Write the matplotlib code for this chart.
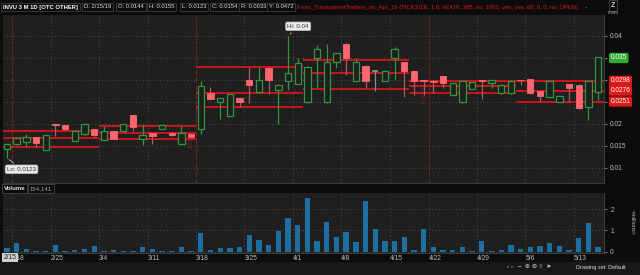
import matplotlib
matplotlib.use("Agg")
import matplotlib.pyplot as plt

plt.rcParams["font.family"] = ["Liberation Sans", "DejaVu Sans"]

# ---------------- data ----------------
dates = ["2/15", "2/19", "2/20", "2/21", "2/22", "2/25", "2/26", "2/27", "2/28", "3/1",
         "3/4", "3/5", "3/6", "3/7", "3/8", "3/11", "3/12", "3/13", "3/14", "3/15",
         "3/18", "3/19", "3/20", "3/21", "3/22", "3/25", "3/26", "3/27", "3/28", "3/29",
         "4/1", "4/2", "4/3", "4/4", "4/5", "4/8", "4/9", "4/10", "4/11", "4/12",
         "4/15", "4/16", "4/17", "4/18", "4/22", "4/23", "4/24", "4/25", "4/26", "4/29",
         "4/30", "5/1", "5/2", "5/3", "5/6", "5/7", "5/8", "5/9", "5/10", "5/13",
         "5/14", "5/15"]
opens = [0.0144, 0.0155, 0.0159, 0.0170, 0.0141, 0.0201, 0.0197, 0.0162, 0.0177, 0.0188,
         0.0164, 0.0183, 0.0184, 0.0220, 0.0165, 0.0179, 0.0189, 0.0180, 0.0154, 0.0178,
         0.0188, 0.0270, 0.0249, 0.0219, 0.0259, 0.0300, 0.0272, 0.0327, 0.0277, 0.0298,
         0.0292, 0.0249, 0.0351, 0.0249, 0.0340, 0.0382, 0.0298, 0.0332, 0.0321, 0.0298,
         0.0351, 0.0340, 0.0321, 0.0299, 0.0298, 0.0309, 0.0266, 0.0249, 0.0280, 0.0299,
         0.0293, 0.0270, 0.0270, 0.0300, 0.0302, 0.0274, 0.0261, 0.0251, 0.0291, 0.0289,
         0.0239, 0.0273]
highs = [0.0155, 0.0170, 0.0178, 0.0171, 0.0176, 0.0202, 0.0198, 0.0186, 0.0200, 0.0189,
         0.0195, 0.0184, 0.0200, 0.0221, 0.0198, 0.0180, 0.0199, 0.0181, 0.0195, 0.0179,
         0.0298, 0.0283, 0.0260, 0.0269, 0.0260, 0.0330, 0.0329, 0.0330, 0.0290, 0.0400,
         0.0349, 0.0331, 0.0380, 0.0382, 0.0362, 0.0383, 0.0349, 0.0333, 0.0322, 0.0322,
         0.0376, 0.0341, 0.0322, 0.0300, 0.0299, 0.0310, 0.0293, 0.0299, 0.0296, 0.0300,
         0.0300, 0.0290, 0.0299, 0.0301, 0.0303, 0.0275, 0.0299, 0.0265, 0.0292, 0.0290,
         0.0299, 0.0352]
lows = [0.0123, 0.0152, 0.0148, 0.0148, 0.0140, 0.0173, 0.0187, 0.0161, 0.0176, 0.0170,
        0.0163, 0.0165, 0.0183, 0.0184, 0.0152, 0.0155, 0.0188, 0.0173, 0.0153, 0.0170,
        0.0177, 0.0255, 0.0211, 0.0218, 0.0239, 0.0248, 0.0271, 0.0269, 0.0200, 0.0277,
        0.0290, 0.0248, 0.0282, 0.0248, 0.0327, 0.0311, 0.0297, 0.0281, 0.0276, 0.0297,
        0.0300, 0.0261, 0.0266, 0.0266, 0.0271, 0.0282, 0.0265, 0.0248, 0.0279, 0.0256,
        0.0281, 0.0269, 0.0269, 0.0289, 0.0269, 0.0251, 0.0260, 0.0250, 0.0251, 0.0235,
        0.0209, 0.0255]
closes = [0.0154, 0.0168, 0.0170, 0.0156, 0.0175, 0.0198, 0.0188, 0.0185, 0.0199, 0.0175,
          0.0183, 0.0166, 0.0199, 0.0194, 0.0175, 0.0173, 0.0198, 0.0174, 0.0180, 0.0171,
          0.0286, 0.0257, 0.0259, 0.0268, 0.0249, 0.0289, 0.0300, 0.0300, 0.0289, 0.0315,
          0.0339, 0.0330, 0.0370, 0.0340, 0.0361, 0.0351, 0.0340, 0.0298, 0.0321, 0.0321,
          0.0370, 0.0320, 0.0298, 0.0297, 0.0296, 0.0294, 0.0293, 0.0298, 0.0295, 0.0297,
          0.0299, 0.0289, 0.0298, 0.0299, 0.0270, 0.0264, 0.0298, 0.0264, 0.0281, 0.0237,
          0.0298, 0.0352]
volumes_m = [0.154, 0.39, 0.10, 0.02, 0.01, 0.33, 0.01, 0.05, 0.10, 0.28,
             0.02, 0.05, 0.02, 0.02, 0.23, 0.10, 0.005, 0.005, 0.20, 0.005,
             0.87, 0.05, 0.15, 0.15, 0.20, 0.79, 0.56, 0.31, 0.98, 1.57,
             1.26, 2.53, 0.51, 1.40, 0.70, 0.90, 0.47, 2.37, 1.08, 0.48,
             0.48, 0.70, 0.09, 1.08, 0.20, 0.05, 0.05, 0.23, 0.01, 0.51,
             0.005, 0.05, 0.33, 0.10, 0.20, 0.28, 0.40, 0.25, 0.05, 0.64,
             1.36, 0.20]
first_volume_text = "154,141"

# support / resistance levels of the study, per block of bars (start idx, end idx)
level_blocks = [(0, 9), (10, 19), (20, 30), (31, 41), (42, 52), (53, 61)]
level_values = [(0.01848, 0.01675, 0.01484),
                (0.01961, 0.01789, 0.01652),
                (0.03302, 0.02711, 0.02393),
                (0.03455, 0.03152, 0.02795),
                (0.02977, 0.02857, 0.02711),
                (0.0298, 0.0276, 0.0251)]
last_price = 0.035
level_labels = ["0.0298", "0.0276", "0.0251"]
week_starts = ["2/18", "2/25", "3/4", "3/11", "3/18", "3/25", "4/1", "4/8", "4/15",
               "4/22", "4/29", "5/6", "5/13"]
week_start_idx = [1, 5, 10, 15, 20, 25, 30, 35, 40, 44, 49, 54, 59]
expiry_idx = [0.5, 19.5, 43.5]
expiry_text = ["", "3/15/19", "4/18/19"]
price_ticks = [0.01, 0.015, 0.02, 0.025, 0.03, 0.035, 0.04]
price_tick_labels = ["0.01", "0.015", "0.02", "", "", "", "0.04"]
vol_ticks = [0, 1, 2]

header_items = ["INVU 3 M 1D [OTC OTHER]", "D: 2/15/19", "O: 0.0144", "H: 0.0155",
                "L: 0.0123", "C: 0.0154", "R: 0.0033", "Y: 0.0472"]
header_x = [3, 84, 118, 149, 182, 212, 241, 269]
study_text = "From_TransparentTraders_on_Apr_16 (TICKSIZE, 1.0, HOUR, 365, no, 1000, yes, yes, 68, 0, 0, no, OPEN)"

# ---------------- style ----------------
W, H = 640, 275
BG = "#1f1f1f"
DARK = "#0c0c0c"
GREEN = "#32963f"
RED = "#ff6670"
RED_WICK = "#a85a5e"
LEVEL = "#cc1418"
GRID = "#4a4a4a"
TXT = "#bdbdbd"
VOL = "#1c6fa0"


def rect(x0, y0, x1, y1):
    return [x0 / W, 1 - y1 / H, (x1 - x0) / W, (y1 - y0) / H]


fig = plt.figure(figsize=(W / 100, H / 100), dpi=100, facecolor=DARK)

bottom_bar = fig.add_axes(rect(0, 262, 640, 275))
bottom_bar.set_facecolor("#181818")
bottom_bar.set_xticks([]); bottom_bar.set_yticks([])
for s in bottom_bar.spines.values():
    s.set_visible(False)

# x-index -> pixel: px = 7 + 9.69*i
x_lo = (3 - 7) / 9.69
x_hi = (604 - 7) / 9.69

ax = fig.add_axes(rect(3, 15, 604, 183))
axv = fig.add_axes(rect(3, 193, 604, 253))
for a in (ax, axv):
    a.set_facecolor(BG)
    a.set_xlim(x_lo, x_hi)
    for s in a.spines.values():
        s.set_color("#3a3a3a")
        s.set_linewidth(0.8)
    a.spines["top"].set_visible(False)
    a.spines["left"].set_visible(False)

grid_x = [w - 0.5 for w in week_start_idx]

# price pane
ax.set_ylim(0.04 - (183 - 36) / 4400, 0.04 + (36 - 15) / 4400)
ax.yaxis.tick_right()
ax.set_yticks(price_ticks)
ax.set_yticklabels(price_tick_labels, fontsize=4.8, color=TXT)
ax.tick_params(axis="y", length=2.5, color="#777777", pad=2)
ax.set_xticks(grid_x)
ax.set_xticklabels([])
ax.tick_params(axis="x", length=0)
ax.grid(True, color=GRID, linestyle=(0, (1, 2.5)), linewidth=0.7)
ax.set_axisbelow(True)

for e, t in zip(expiry_idx, expiry_text):
    ax.axvline(e, color="#7c1d1d", linestyle=(0, (4, 3)), linewidth=0.8, zorder=1)
    if t:
        ax.text(e - 0.45, 0.0165 if e < 30 else 0.0265, t, rotation=90, fontsize=3.8,
                color="#7c1d1d", ha="center", va="center", zorder=1)

for (s, e), vals in zip(level_blocks, level_values):
    end = e + 0.5 if e < len(dates) - 1 else x_hi
    for v in vals:
        ax.hlines(v, s - 0.5, end, color=LEVEL, linewidth=1.4, zorder=2)

bw = 0.66
for i in range(len(dates)):
    o, h, l, c = opens[i], highs[i], lows[i], closes[i]
    if abs(c - o) < 1e-6:
        col = "#8a8a8a"
        ax.vlines(i, l, h, color=col, linewidth=0.9, zorder=3)
        ax.hlines(o, i - bw / 2, i + bw / 2, color=col, linewidth=1.3, zorder=4)
    elif c > o:
        ax.vlines(i, l, h, color=GREEN, linewidth=0.9, zorder=3)
        ax.bar(i, c - o, bottom=o, width=bw, facecolor=BG, edgecolor=GREEN,
               linewidth=0.9, zorder=4)
    else:
        ax.vlines(i, l, h, color=RED_WICK, linewidth=0.9, zorder=3)
        ax.bar(i, max(o - c, 0.00012), bottom=c, width=bw, facecolor=RED,
               edgecolor=RED, linewidth=0.6, zorder=4)

# Hi / Lo bubbles
hi_i = max(range(len(highs)), key=lambda k: highs[k])
lo_i = min(range(len(lows)), key=lambda k: lows[k])
bub = dict(boxstyle="round,pad=0.3,rounding_size=0.3", fc="#e8e8e8", ec="#bbbbbb", lw=0.5)
ax.annotate("Hi: %.2f" % highs[hi_i], xy=(hi_i, highs[hi_i]), xytext=(hi_i + 1.05, 0.0422),
            fontsize=4.4, color="#333333", ha="center", va="center", zorder=6, bbox=bub,
            arrowprops=dict(arrowstyle="-", color="#cccccc", lw=0.6))
ax.annotate("Lo: %.4f" % lows[lo_i], xy=(lo_i, lows[lo_i]), xytext=(lo_i + 1.5, 0.0097),
            fontsize=4.4, color="#333333", ha="center", va="center", zorder=6, bbox=bub,
            arrowprops=dict(arrowstyle="-", color="#cccccc", lw=0.6))

# right-side price bubbles
def price_tag(v, text, fc):
    ax.text(1.011, v, text, transform=ax.get_yaxis_transform(), fontsize=4.7,
            color="white", ha="left", va="center", zorder=7, clip_on=False,
            bbox=dict(boxstyle="round,pad=0.25,rounding_size=0.25", fc=fc, ec="none"))

price_tag(last_price, "0.035", "#2eaa2e")
for v, t in zip(level_values[-1], level_labels):
    price_tag(v, t, "#dd1a1a")

# volume pane
axv.bar(range(len(dates)), volumes_m, width=0.55, color=VOL, zorder=3)
axv.set_ylim(-0.07, (251 - 193) / 21)
axv.yaxis.tick_right()
axv.set_yticks(vol_ticks)
axv.set_yticklabels([str(t) for t in vol_ticks], fontsize=4.8, color=TXT)
axv.tick_params(axis="y", length=2.5, color="#777777", pad=2)
axv.set_xticks(grid_x)
axv.set_xticklabels(week_starts, fontsize=4.8, color=TXT, ha="left")
axv.tick_params(axis="x", length=0, pad=1.5)
axv.grid(True, color=GRID, linestyle=(0, (1, 2.5)), linewidth=0.7)
axv.set_axisbelow(True)
fig.text(632 / W, 1 - 222 / H, "<millions>", rotation=-90, fontsize=4.0,
         color=TXT, ha="center", va="center")

# first-date box on the time axis
fig.text(10 / W, 1 - 257.5 / H, dates[0], fontsize=4.8, color="#222222", ha="center", va="center",
         bbox=dict(boxstyle="square,pad=0.2", fc="#cfcfcf", ec="none"))

# volume header
fig.text(4 / W, 1 - 188.5 / H, "Volume", fontsize=4.4, color="#e0e0e0", weight="bold",
         ha="left", va="center",
         bbox=dict(boxstyle="square,pad=0.3", fc=DARK, ec="#444444", lw=0.6))
fig.text(30 / W, 1 - 188.5 / H, first_volume_text,
         fontsize=4.4, color="#aaaaaa", ha="left", va="center",
         bbox=dict(boxstyle="square,pad=0.3", fc=DARK, ec="#444444", lw=0.6))

# header
for k, (x, t) in enumerate(zip(header_x, header_items)):
    fig.text(x / W, 1 - 7 / H, t, fontsize=4.2, color="white" if k == 0 else "#dddddd",
             weight="bold" if k == 0 else "normal", ha="left", va="center",
             bbox=dict(boxstyle="square,pad=0.3", fc=DARK, ec="#3c3c3c", lw=0.6))
fig.text(297 / W, 1 - 7 / H, study_text, fontsize=4.25, color="#e01818", ha="left", va="center")
fig.text(584 / W, 1 - 7 / H, "..", fontsize=4.5, color="#aaaaaa", ha="left", va="center")
fig.text(613 / W, 1 - 5.5 / H, "Z", fontsize=5, color="#cccccc", ha="center", va="center",
         weight="bold", bbox=dict(boxstyle="square,pad=0.25", fc=DARK, ec="#555555", lw=0.5))
fig.text(613 / W, 1 - 13 / H, "0.045", fontsize=3.2, color=TXT, ha="center", va="center")

# bottom toolbar
fig.text(507 / W, 1 - 267 / H, "‹ ›  ⇔ ⊕ ⊛ ○  ➤", fontsize=4.6, color="#cccccc",
         ha="left", va="center")
fig.text(576 / W, 1 - 267 / H, "Drawing set: Default", fontsize=4.0, color="#dddddd",
         ha="left", va="center")

fig.savefig("out.png", dpi=100, facecolor=DARK)
